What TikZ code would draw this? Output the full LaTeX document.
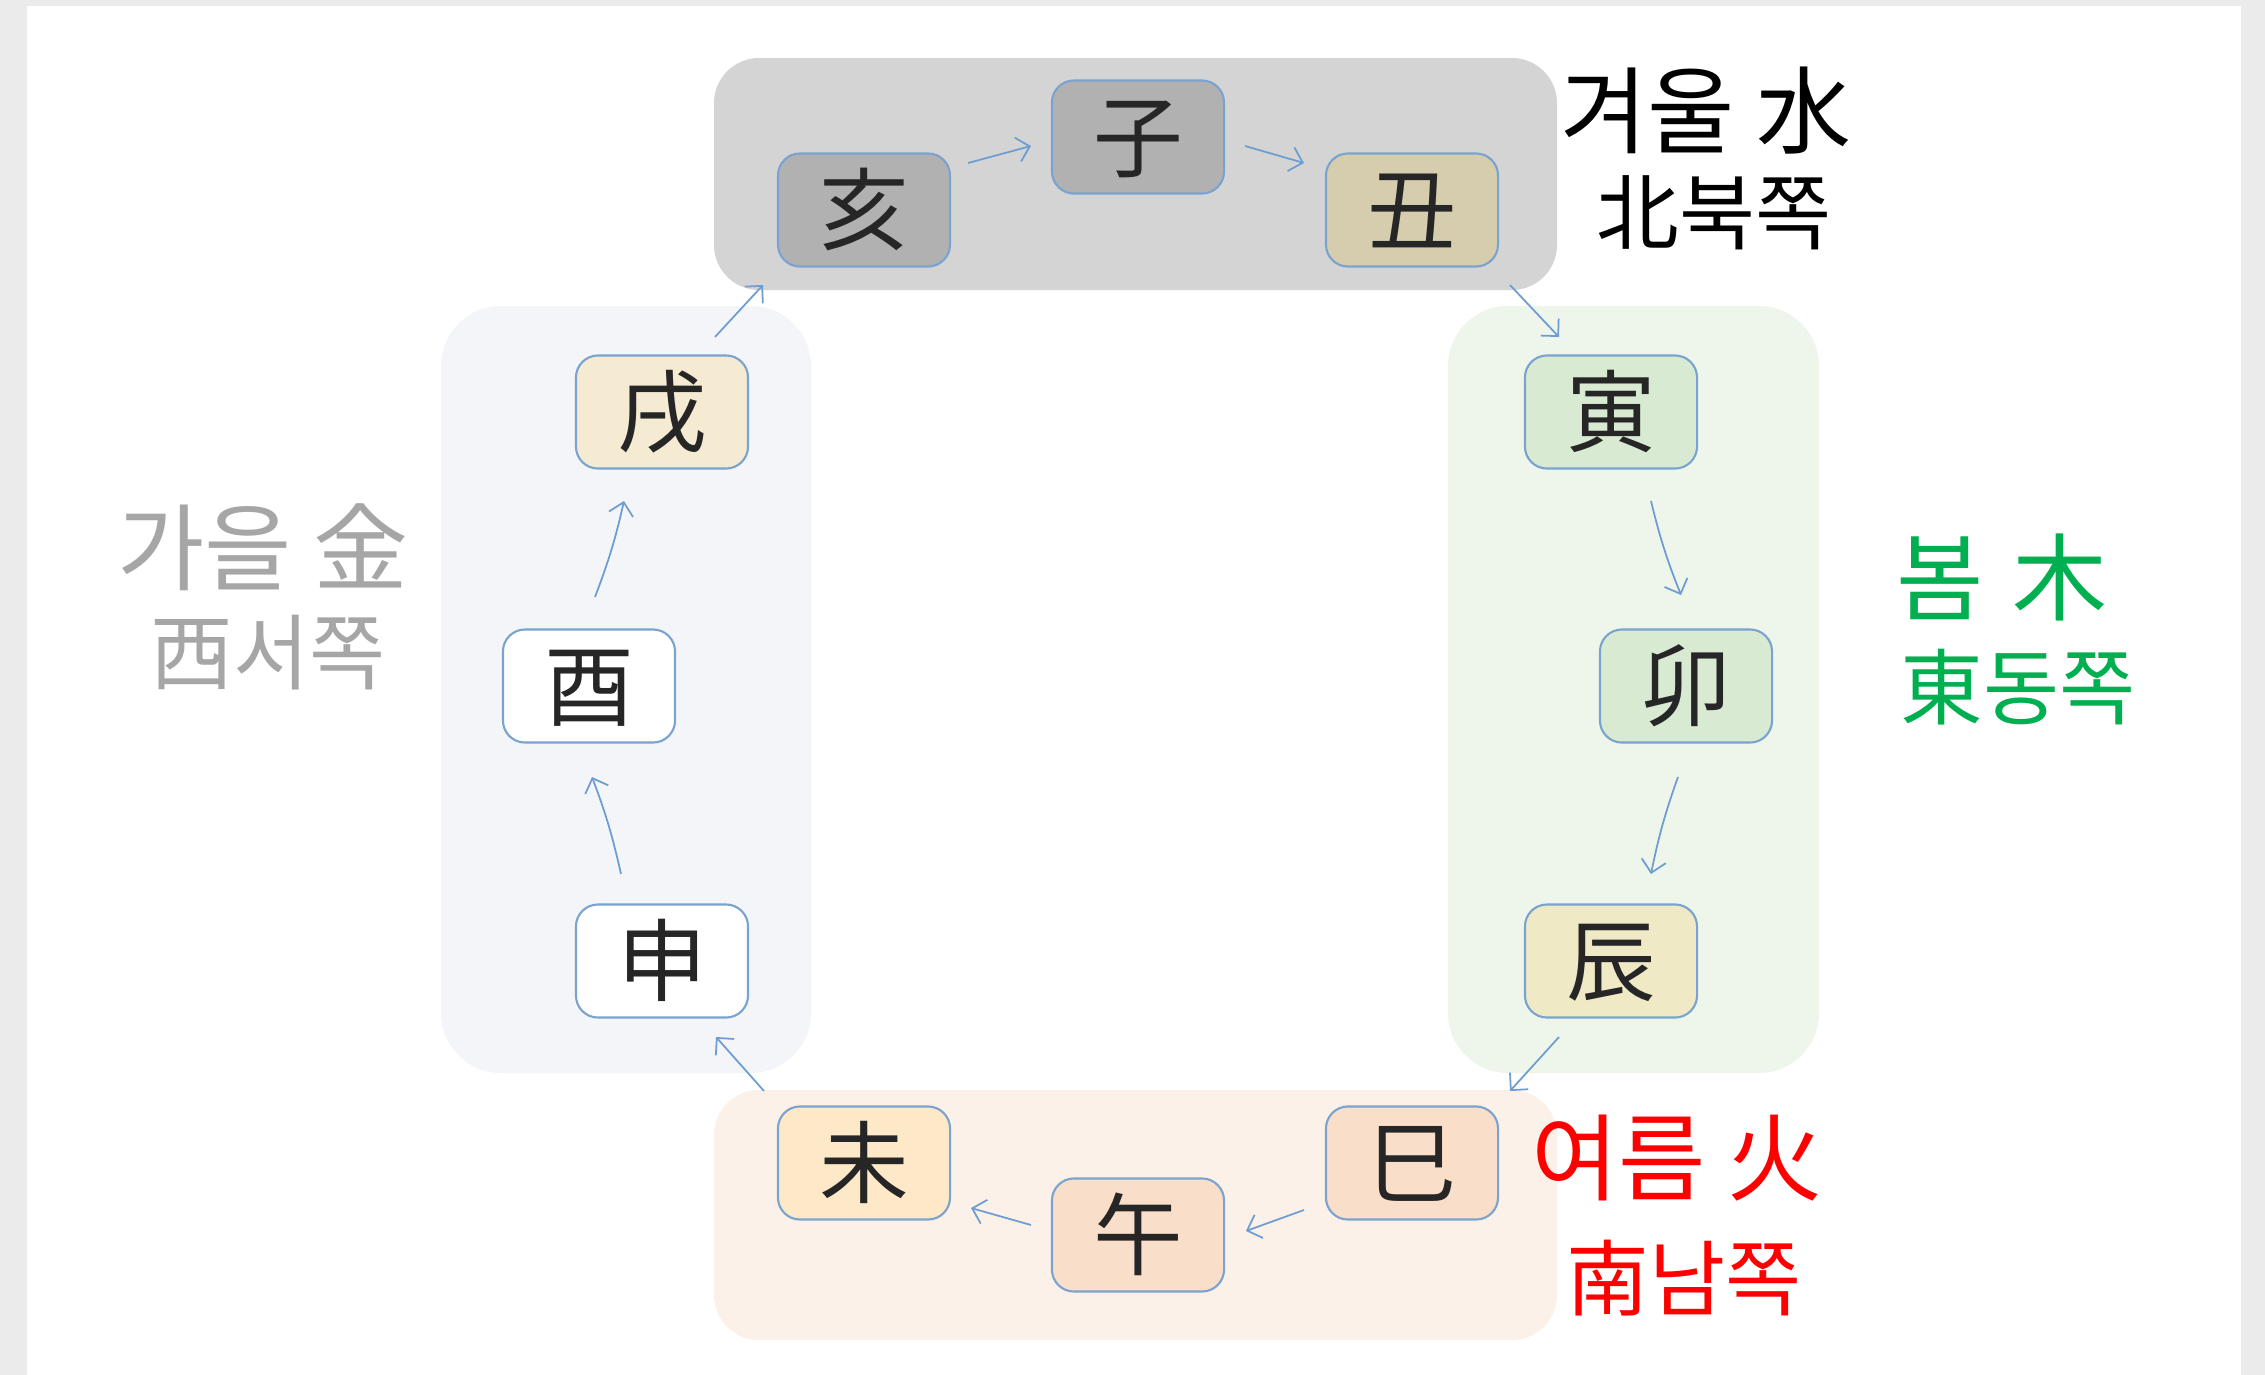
\documentclass[tikz,border=0pt]{standalone}
\usepackage{fontspec}
\setmainfont{Noto Sans CJK KR}
\usetikzlibrary{arrows.meta}
\definecolor{bggrey}{HTML}{EBEBEB}
\definecolor{nodeborder}{HTML}{7AA3CF}
\definecolor{nodetext}{HTML}{262626}
\definecolor{arrowblue}{HTML}{6D9DD1}
\definecolor{grpwinter}{HTML}{D4D4D4}
\definecolor{grpspring}{HTML}{EEF6EB}
\definecolor{grpautumn}{HTML}{F4F5F8}
\definecolor{grpsummer}{HTML}{FCF1E9}
\definecolor{fgrey}{HTML}{B2B1B1}
\definecolor{fchuk}{HTML}{D6CCAE}
\definecolor{fgreen}{HTML}{D8EBD2}
\definecolor{fjin}{HTML}{EFE9C5}
\definecolor{fpeach}{HTML}{F9DFCA}
\definecolor{fmi}{HTML}{FDE9C8}
\definecolor{fsul}{HTML}{F5EBD2}
\definecolor{lblgreen}{HTML}{00B050}
\definecolor{lblgrey}{HTML}{A6A6A6}
\tikzset{
  branch/.style={draw=nodeborder, line width=0.6pt, rounded corners=0.22cm,
    minimum width=1.72cm, minimum height=1.13cm, inner sep=0pt,
    font=\fontsize{25.5}{25.5}\selectfont, text=nodetext,
    text height=22.4pt, text depth=3.1pt},
  flow/.style={draw=arrowblue, line width=0.5pt, -{Straight Barb[length=3.5pt,width=7pt]}},
  lbla/.style={inner sep=0pt, font=\fontsize{27}{27}\selectfont, text height=23.8pt, text depth=3.2pt},
  lblb/.style={inner sep=0pt, font=\fontsize{23.5}{23.5}\selectfont, text height=20.7pt, text depth=2.8pt},
}
\begin{document}
\begin{tikzpicture}[x=0.01cm, y=-0.01cm]
\useasboundingbox (0,0) rectangle (2265,1375);
\fill[bggrey] (0,0) rectangle (2265,1375);
\fill[white] (27,6) rectangle (2241,1375);
% season groups
\fill[grpwinter, rounded corners=0.45cm] (714,58) rectangle (1557,290);
\fill[grpspring, rounded corners=0.6cm] (1448,306) rectangle (1819,1073);
\fill[grpautumn, rounded corners=0.6cm] (441,306) rectangle (811,1073);
\fill[grpsummer, rounded corners=0.45cm] (714,1090) rectangle (1557,1340);
% branches
\node[branch, fill=fgrey]  (hai)  at (864,210)  {亥};
\node[branch, fill=fgrey]  (ja)   at (1138,137) {子};
\node[branch, fill=fchuk]  (chuk) at (1412,210) {丑};
\node[branch, fill=fgreen] (in)   at (1611,412) {寅};
\node[branch, fill=fgreen] (myo)  at (1686,686) {卯};
\node[branch, fill=fjin]   (jin)  at (1611,961) {辰};
\node[branch, fill=fpeach] (sa)   at (1412,1163) {巳};
\node[branch, fill=fpeach] (o)    at (1138,1235) {午};
\node[branch, fill=fmi]    (mi)   at (864,1163) {未};
\node[branch, fill=white]  (sin)  at (662,961)  {申};
\node[branch, fill=white]  (yu)   at (589,686)  {酉};
\node[branch, fill=fsul]   (sul)  at (662,412)  {戌};
% arrows
\draw[flow] ([shift={(104,-47)}]hai.center) -- ([shift={(-107,9)}]ja.center);
\draw[flow] ([shift={(107,9)}]ja.center) -- ([shift={(-108,-47)}]chuk.center);
\draw[flow] ([shift={(98,75)}]chuk.center) -- ([shift={(-52,-75)}]in.center);
\draw[flow] ([shift={(40,89)}]in.center) to[bend right=4] ([shift={(-5,-91)}]myo.center);
\draw[flow] ([shift={(-8,91)}]myo.center) to[bend right=4] ([shift={(40,-87)}]jin.center);
\draw[flow] ([shift={(-52,76)}]jin.center) -- ([shift={(98,-72)}]sa.center);
\draw[flow] ([shift={(-108,47)}]sa.center) -- ([shift={(108,-4)}]o.center);
\draw[flow] ([shift={(-107,-10)}]o.center) -- ([shift={(107,45)}]mi.center);
\draw[flow] ([shift={(-100,-72)}]mi.center) -- ([shift={(54,76)}]sin.center);
\draw[flow] ([shift={(-41,-87)}]sin.center) to[bend right=4] ([shift={(3,91)}]yu.center);
\draw[flow] ([shift={(6,-89)}]yu.center) to[bend right=4] ([shift={(-38,89)}]sul.center);
\draw[flow] ([shift={(53,-75)}]sul.center) -- ([shift={(-101,75)}]hai.center);
% season labels
\node[lbla, text=black] (winter) at (1706,110) {겨울 水};
\node[lblb, text=black] (north)  at (1714,212) {北북쪽};
\node[lbla, text=lblgreen] (spring) at (2002,577) {봄\hspace{0.3em}木};
\node[lblb, text=lblgreen] (east)   at (2018,687) {東동쪽};
\node[lbla, text=lblgrey] (autumn) at (263,547) {가을 金};
\node[lblb, text=lblgrey] (west)   at (268,652) {西서쪽};
\node[lbla, text=red] (summer) at (1677,1157) {여름 火};
\node[lblb, text=red] (south)  at (1684,1278) {南남쪽};
\end{tikzpicture}
\end{document}
